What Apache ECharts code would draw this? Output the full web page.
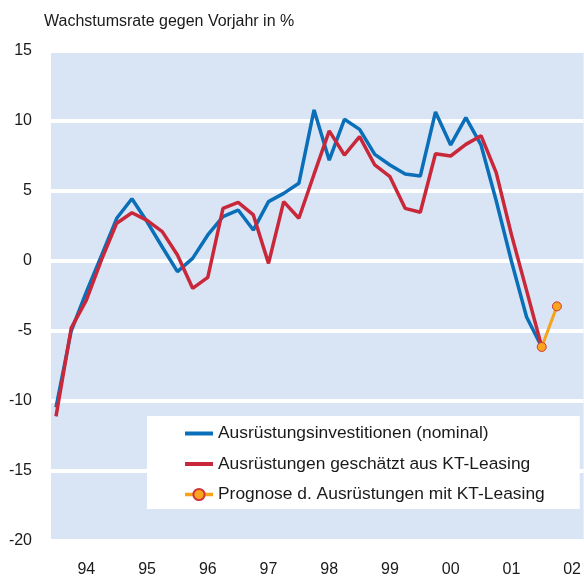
<!DOCTYPE html>
<html>
<head>
<meta charset="utf-8">
<script src="https://cdn.jsdelivr.net/npm/echarts@6/dist/echarts.min.js"></script>
<style>html,body{margin:0;padding:0;background:#fff}#c{width:584px;height:578px}</style>
</head>
<body>
<div id="c"></div>
<script>
// quarterly data, index 0 = 1994 Q1
const yearLabels = ["94","95","96","97","98","99","00","01","02"];
const yearLabelPos = [2,6,10,14,18,22,26,30,34];
const nominal = [-10.45,-5.0,-2.2,0.4,3.05,4.45,2.8,1.0,-0.76,0.19,1.86,3.17,3.64,2.21,4.24,4.83,5.55,10.79,7.2,10.12,9.4,7.62,6.86,6.21,6.07,10.65,8.29,10.24,8.29,4.3,0.0,-4.0,-6.14];
const leasing = [-11.1,-4.8,-2.8,0.1,2.7,3.45,2.9,2.1,0.43,-1.95,-1.17,3.76,4.19,3.29,-0.17,4.24,3.05,6.2,9.29,7.57,8.88,6.86,6.02,3.76,3.48,7.66,7.5,8.33,8.95,6.31,1.9,-2.1,-6.14];
const prognoseStart = 32;
const prognose = [-6.14,-3.24];
const yTicks = {min:-20, max:15, interval:5};
const names = ['Ausrüstungsinvestitionen (nominal)','Ausrüstungen geschätzt aus KT-Leasing','Prognose d. Ausrüstungen mit KT-Leasing'];

const FONT = "'Liberation Sans', Arial, sans-serif";
const toXY = (arr, start) => arr.map((v,i)=>[start+i, v]);
const hiddenSymbol = {color:'rgba(0,0,0,0)', borderColor:'rgba(0,0,0,0)', borderWidth:0};

const chart = echarts.init(document.getElementById('c'), null, {renderer:'canvas'});
chart.setOption({
  animation:false,
  textStyle:{fontFamily:FONT},
  title:{text:'Wachstumsrate gegen Vorjahr in %', left:39, top:9,
    textStyle:{fontSize:16, fontWeight:'normal', color:'#1a1a1a', fontFamily:FONT}},
  grid:{left:51, right:0, top:51, bottom:37, show:true, backgroundColor:'#d9e5f4', borderWidth:0},
  xAxis:{type:'value', min:-0.33, max:34.76,
    axisLine:{show:false}, axisTick:{show:false}, splitLine:{show:false},
    axisLabel:{customValues:yearLabelPos, margin:21, fontSize:16, color:'#1a1a1a', fontFamily:FONT,
      formatter:v=>{const k=yearLabelPos.indexOf(Math.round(v)); return k>=0?yearLabels[k]:'';}}},
  yAxis:{type:'value', min:yTicks.min, max:yTicks.max, interval:yTicks.interval,
    axisLine:{show:false}, axisTick:{show:false},
    splitLine:{show:true, lineStyle:{color:'#ffffff', width:4}},
    axisLabel:{margin:19, fontSize:16, color:'#1a1a1a', fontFamily:FONT}},
  legend:{orient:'vertical', left:147, top:416, backgroundColor:'#ffffff',
    padding:[9,35,6,36], itemGap:13.5, itemWidth:28, itemHeight:14,
    textStyle:{fontSize:17.4, color:'#1a1a1a', fontFamily:FONT},
    data:[
      {name:names[0], lineStyle:{width:4}, itemStyle:hiddenSymbol},
      {name:names[1], lineStyle:{width:4}, itemStyle:hiddenSymbol},
      {name:names[2], lineStyle:{width:3.5}}
    ]},
  series:[
    {name:names[0], type:'line', data:toXY(nominal,0), symbol:'none',
      lineStyle:{color:'#0a6fb8', width:3.5}, itemStyle:{color:'#0a6fb8'}, z:2},
    {name:names[1], type:'line', data:toXY(leasing,0), symbol:'none',
      lineStyle:{color:'#c9283a', width:3.5}, itemStyle:{color:'#c9283a'}, z:3},
    {name:names[2], type:'line', data:toXY(prognose,prognoseStart),
      symbol:'circle', symbolSize:9, showAllSymbol:true,
      lineStyle:{color:'#f7a21b', width:3},
      itemStyle:{color:'#f9a61e', borderColor:'#d0343c', borderWidth:1}, z:4}
  ]
});
</script>
</body>
</html>
